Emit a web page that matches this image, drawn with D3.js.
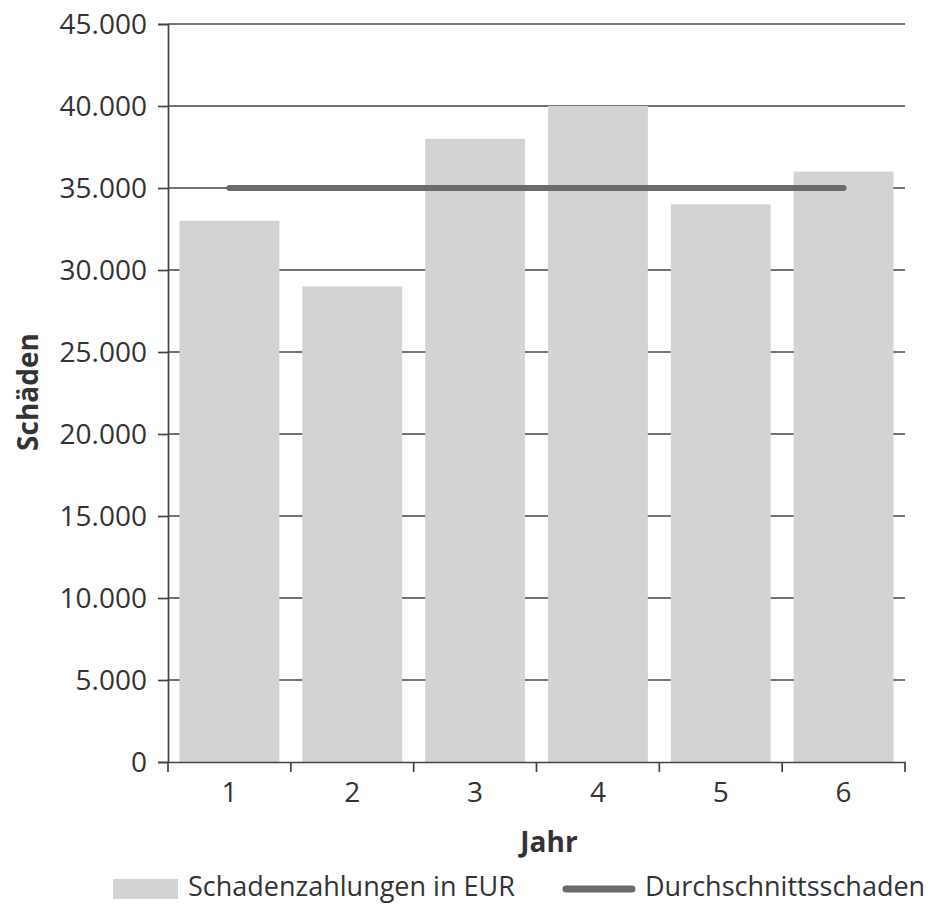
<!DOCTYPE html>
<html><head><meta charset="utf-8">
<script src="https://cdn.jsdelivr.net/npm/d3@7"></script>
<style>
body{margin:0;background:#fff;}
text{font-family:"Open Sans",sans-serif;fill:#333;}
</style></head>
<body><svg id="c" width="951" height="905"></svg>
<script>
const categories = ["1","2","3","4","5","6"];
const schadenzahlungen = [33000, 29000, 38000, 40000, 34000, 36000];
const durchschnitt = [35000, 35000, 35000, 35000, 35000, 35000];
const yTicks = [0,5000,10000,15000,20000,25000,30000,35000,40000,45000];
const seriesNames = ["Schadenzahlungen in EUR","Durchschnittsschaden"];

const svg = d3.select("#c");
const L = 168, R = 905, T = 24, B = 762;
const x = d3.scaleBand().domain(categories).range([L,R]).paddingInner(0.187).paddingOuter(0.0935);
const y = d3.scaleLinear().domain([0,45000]).range([B,T]);
const fmt = v => v===0 ? "0" : d3.format(",")(v).replace(/,/g,".");

// gridlines
svg.append("g").selectAll("line").data(yTicks.filter(d=>d>0)).join("line")
  .attr("x1",L).attr("x2",R).attr("y1",d=>y(d)).attr("y2",d=>y(d))
  .attr("stroke","#444").attr("stroke-width",1.7);

// bars
svg.append("g").selectAll("rect").data(categories).join("rect")
  .attr("x",d=>x(d)).attr("width",x.bandwidth())
  .attr("y",(d,i)=>y(schadenzahlungen[i])).attr("height",(d,i)=>B-y(schadenzahlungen[i]))
  .attr("fill","#d3d3d3");

// average line
const line = d3.line().x((d,i)=>x(categories[i])+x.bandwidth()/2).y(d=>y(d));
svg.append("path").datum(durchschnitt).attr("d",line)
  .attr("fill","none").attr("stroke","#6b6b6b").attr("stroke-width",6).attr("stroke-linecap","round");

// y axis
const ya = svg.append("g").attr("transform",`translate(${L},0)`)
  .call(d3.axisLeft(y).tickValues(yTicks).tickFormat(fmt).tickSize(10).tickPadding(11));
ya.select(".domain").attr("stroke","#444").attr("stroke-width",1.7);
ya.selectAll(".tick line").attr("stroke","#444").attr("stroke-width",1.7);
ya.selectAll(".tick text").attr("font-size",28).attr("fill","#333").attr("font-family","Open Sans").attr("dy","0.35em");

// x axis
const xa = svg.append("g").attr("transform",`translate(0,${B})`)
  .call(d3.axisBottom(x).tickSize(0).tickPadding(20));
xa.select(".domain").attr("stroke","#444").attr("stroke-width",1.7);
xa.selectAll(".tick text").attr("font-size",28).attr("fill","#333").attr("font-family","Open Sans");
// boundary ticks
const bounds = categories.map(c=>x(c)-x.step()*x.paddingInner()/2).concat([R]);
bounds[0] = L;
xa.append("g").selectAll("line").data(bounds).join("line")
  .attr("x1",d=>d).attr("x2",d=>d).attr("y1",0).attr("y2",10)
  .attr("stroke","#444").attr("stroke-width",1.7);

// axis titles
svg.append("text").attr("transform","translate(38,392) rotate(-90)")
  .attr("text-anchor","middle").attr("font-size",28).attr("font-weight","bold").text("Schäden");
svg.append("text").attr("x",549).attr("y",852).attr("text-anchor","middle")
  .attr("font-size",28).attr("font-weight","bold").text("Jahr");

// legend
const lg = svg.append("g");
lg.append("rect").attr("x",113).attr("y",879).attr("width",65).attr("height",20).attr("fill","#d3d3d3");
lg.append("text").attr("x",188).attr("y",896).attr("font-size",27).text(seriesNames[0]);
lg.append("line").attr("x1",566).attr("x2",632).attr("y1",889).attr("y2",889)
  .attr("stroke","#6b6b6b").attr("stroke-width",7).attr("stroke-linecap","round");
lg.append("text").attr("x",645).attr("y",896).attr("font-size",27).text(seriesNames[1]);
</script></body></html>
